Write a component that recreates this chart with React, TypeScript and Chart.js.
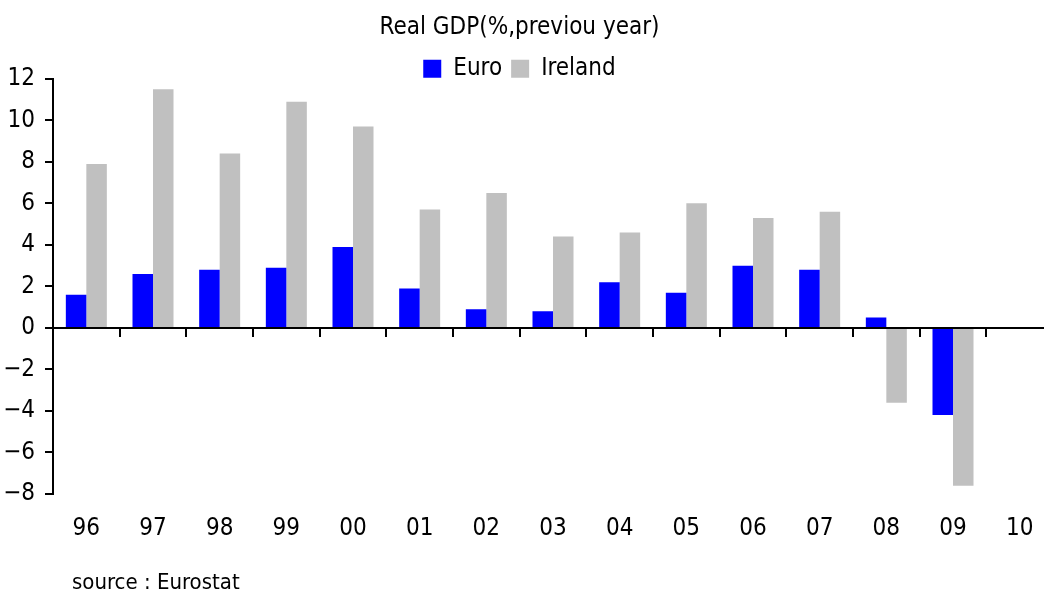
import React, { useEffect, useRef } from 'react';
import { Chart, registerables } from 'chart.js';

Chart.register(...registerables);

const years = ['96', '97', '98', '99', '00', '01', '02', '03', '04', '05', '06', '07', '08', '09', '10'];
const euro = [1.6, 2.6, 2.8, 2.9, 3.9, 1.9, 0.9, 0.8, 2.2, 1.7, 3.0, 2.8, 0.5, -4.2, null];
const ireland = [7.9, 11.5, 8.4, 10.9, 9.7, 5.7, 6.5, 4.4, 4.6, 6.0, 5.3, 5.6, -3.6, -7.6, null];
const seriesNames = ['Euro', 'Ireland'];
const yMin = -8;
const yMax = 12;
const yStep = 2;
const titleText = 'Real GDP(%,previou year)';
const sourceText = 'source : Eurostat';

const FONT = "'Liberation Sans Narrow', 'Arial Narrow', 'DejaVu Sans Condensed', 'Noto Sans', sans-serif";

export default function App() {
  const ref = useRef<HTMLCanvasElement>(null);

  useEffect(() => {
    if (!ref.current) return;
    const font = { family: FONT, size: 24, weight: 'normal' as const };
    const chart = new Chart(ref.current, {
      type: 'bar',
      data: {
        labels: years,
        datasets: [
          { label: seriesNames[0], data: euro, backgroundColor: '#0000FF', borderWidth: 0, xAxisID: 'x', yAxisID: 'y' },
          { label: seriesNames[1], data: ireland, backgroundColor: '#C0C0C0', borderWidth: 0, xAxisID: 'x', yAxisID: 'y' },
        ],
      },
      options: {
        animation: false,
        responsive: false,
        devicePixelRatio: 1,
        layout: { padding: { left: 0, right: 1, top: 0, bottom: 0 } },
        datasets: { bar: { categoryPercentage: 0.615, barPercentage: 1 } },
        plugins: {
          title: {
            display: true,
            text: titleText,
            color: '#000',
            font,
            padding: { top: 13, bottom: 6 },
          },
          legend: {
            display: true,
            position: 'top',
            maxHeight: 31,
            labels: { color: '#000', font, boxWidth: 18, boxHeight: 18, padding: 9 },
          },
          tooltip: { enabled: false },
        },
        scales: {
          x: {
            type: 'category',
            position: 'bottom',
            offset: true,
            grid: { display: false, drawTicks: false, offset: true },
            border: { display: false },
            ticks: { color: '#000', font, padding: 20, maxRotation: 0, autoSkip: false },
            afterFit: (s: any) => { s.height = 99; },
          },
          x0: {
            type: 'category',
            position: { y: 0 },
            offset: true,
            z: 1,
            grid: { display: true, drawOnChartArea: false, drawTicks: true, tickLength: 8, color: '#000', lineWidth: 2, offset: true },
            border: { display: true, color: '#000', width: 2 },
            ticks: { display: false },
          },
          y: {
            min: yMin,
            max: yMax,
            ticks: {
              stepSize: yStep,
              color: '#000',
              font,
              padding: 10,
              callback: (v: any) => (Number(v) < 0 ? '\u2212' + Math.abs(Number(v)) : String(v)),
            },
            grid: { drawOnChartArea: false, drawTicks: true, tickLength: 8, color: '#000', lineWidth: 2 },
            border: { display: true, color: '#000', width: 2 },
            afterFit: (s: any) => { s.width = 67; },
          },
        } as any,
      },
    });
    return () => chart.destroy();
  }, []);

  return (
    <div style={{ position: 'fixed', left: 0, top: 0, width: 1044, height: 593, overflow: 'hidden', background: '#fff' }}>
      <canvas ref={ref} width={1068} height={593} style={{ position: 'absolute', left: -14, top: 0, width: 1068, height: 593 }} />
      <div style={{ position: 'absolute', left: 72, top: 569, fontFamily: FONT, fontSize: 22, lineHeight: '26px', color: '#000', whiteSpace: 'nowrap' }}>
        {sourceText}
      </div>
    </div>
  );
}
